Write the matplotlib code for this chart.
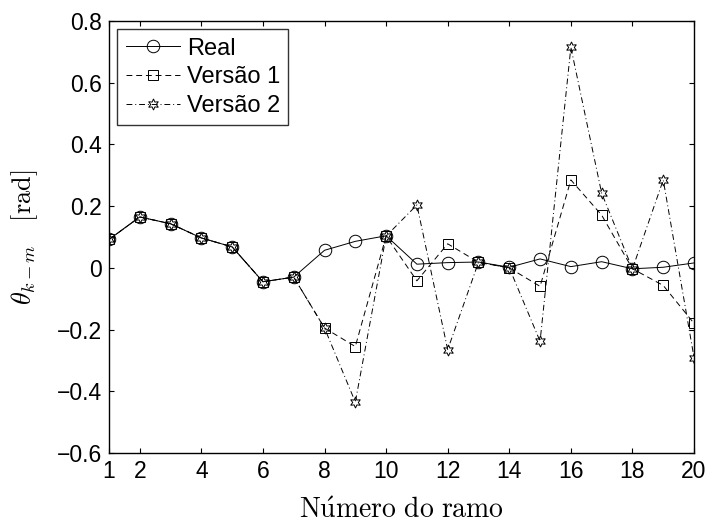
import matplotlib
matplotlib.use("Agg")
import matplotlib.pyplot as plt
import numpy as np

plt.rcParams['font.family'] = ['Liberation Sans', 'DejaVu Sans']
plt.rcParams['mathtext.fontset'] = 'cm'

ramo = np.arange(1, 21)
real = [0.092, 0.165, 0.143, 0.097, 0.068, -0.045, -0.030, 0.057, 0.086, 0.104,
        0.012, 0.017, 0.019, 0.002, 0.029, 0.004, 0.020, -0.003, 0.002, 0.016]
versao1 = [0.092, 0.165, 0.143, 0.097, 0.068, -0.045, -0.030, -0.195, -0.255, 0.103,
           -0.042, 0.078, 0.018, 0.000, -0.060, 0.285, 0.171, -0.003, -0.057, -0.180]
versao2 = [0.092, 0.165, 0.143, 0.097, 0.068, -0.045, -0.030, -0.195, -0.435, 0.103,
           0.204, -0.265, 0.018, 0.000, -0.238, 0.715, 0.242, -0.003, 0.285, -0.291]

xticks = [1, 2, 4, 6, 8, 10, 12, 14, 16, 18, 20]
yticks = [-0.6, -0.4, -0.2, 0, 0.2, 0.4, 0.6, 0.8]
ylabels = ['\u22120.6', '\u22120.4', '\u22120.2', '0', '0.2', '0.4', '0.6', '0.8']

fig = plt.figure(figsize=(7.09, 5.26), dpi=100)
ax = fig.add_axes([0.1537, 0.1388, 0.8252, 0.8212])

ax.plot(ramo, real, '-', color='black', lw=0.7, marker='o', ms=9,
        mfc='none', mec='black', mew=0.7, label='Real')
ax.plot(ramo, versao1, '--', color='black', lw=0.7, marker='s', ms=6.5,
        mfc='none', mec='black', mew=0.7, dashes=(6, 4), label='Versão 1')
ax.plot(ramo, versao2, '-.', color='black', lw=0.7, marker=(6, 1, 0), ms=8,
        mfc='none', mec='black', mew=0.7, dashes=(6, 3, 1, 3), label='Versão 2')

ax.set_xlim(1, 20)
ax.set_ylim(-0.6, 0.8)
ax.set_xticks(xticks)
ax.set_yticks(yticks)
ax.set_yticklabels(ylabels)
ax.tick_params(direction='in', top=True, right=True, labelsize=16.5, length=3.5,
               width=0.8, pad=5)
for s in ax.spines.values():
    s.set_linewidth(1.0)

ax.set_xlabel(r'$\mathrm{N\acute{u}mero\ do\ ramo}$', fontsize=20, labelpad=11)
ax.set_ylabel(r'$\theta_{k-m}\quad[\mathrm{rad}]$', fontsize=19, labelpad=12)

leg = ax.legend(loc='upper left', fontsize=17, frameon=True, fancybox=False,
                edgecolor='black', borderaxespad=0.35, handlelength=2.3,
                borderpad=0.35, labelspacing=0.28, handletextpad=0.3)
leg.get_frame().set_linewidth(1.0)

fig.savefig('out.png', dpi=100)
